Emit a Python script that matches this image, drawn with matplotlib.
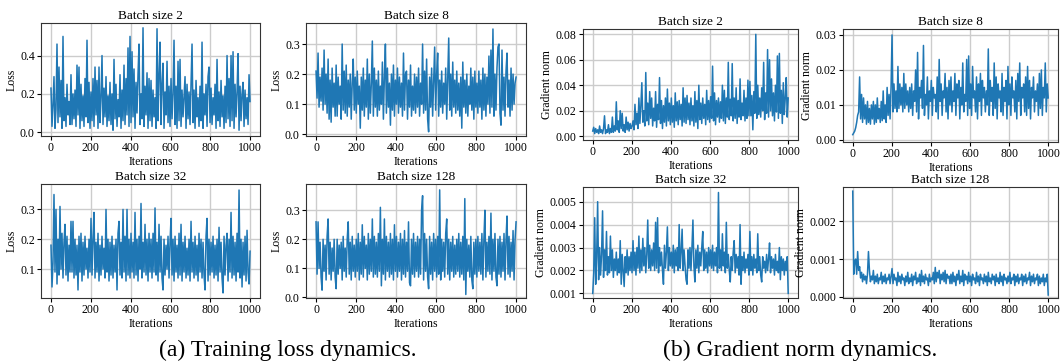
import numpy as np
import matplotlib
matplotlib.use("Agg")
import matplotlib.pyplot as plt

plt.rcParams['font.family'] = ['Liberation Serif', 'DejaVu Serif']

# values, one every ~5 iterations
# loss values in units of 0.01
loss_bs2 = [23, 3, 14, 29, 2, 12, 46, 5, 34, 8, 27, 2, 50, 6, 18, 3, 25, 9, 16, 4,
            30, 4, 20, 7, 22, 3, 35, 9, 34, 2, 25, 6, 19, 3, 28, 8, 48, 5, 26, 2,
            21, 6, 28, 3, 34, 9, 27, 2, 34, 5, 18, 40, 4, 23, 8, 29, 3, 19, 6, 26,
            4, 20, 1, 38, 7, 25, 3, 17, 8, 30, 2, 22, 6, 35, 4, 28, 9, 44, 3, 50,
            5, 42, 8, 33, 2, 26, 10, 30, 46, 4, 20, 7, 54.5, 3, 24, 9, 31, 2, 28, 6,
            27, 3, 22, 8, 18, 2, 54, 6, 30, 47, 4, 25, 36, 2, 21, 9, 37, 5, 24, 3,
            28, 7, 20, 48, 4, 24, 2, 37, 6, 38, 3, 22, 8, 19, 29, 2, 25, 7, 21, 4,
            26, 46, 5, 22, 2, 27, 8, 18, 3, 24, 6, 47, 2, 20, 9, 25, 3, 29, 34, 5,
            23, 4, 18, 9, 25, 2, 38, 6, 21, 3, 27, 8, 19, 2, 24, 5, 40, 7, 28, 3,
            40, 6, 42, 2, 25, 8, 21, 41, 1, 24, 6, 20, 26, 3, 22, 7, 18, 4, 30, 16]
loss_bs8 = [21, 12, 27, 9, 19, 11, 22, 8, 28, 10, 20, 7, 25, 5, 18, 4, 22, 9, 17, 6,
            23, 6, 19, 10, 16, 5, 30, 8, 21, 7, 23, 6, 18, 9, 20, 5, 17, 25, 8, 19,
            7, 21, 10, 16, 2, 19, 8, 22, 6, 18, 9, 25, 5, 20, 7, 17, 31, 6, 22, 9,
            18, 6, 21, 8, 16, 10, 24, 5, 19, 30, 7, 22, 9, 17, 3, 20, 8, 23, 6, 18,
            10, 22, 7, 19, 9, 17, 6, 27, 8, 20, 21, 5, 18, 9, 23, 6, 16, 8, 20, 7,
            19, 9, 22, 6, 17, 10, 30, 7, 21, 8, 25, 5, 0.8, 19, 9, 22, 6, 18, 29, 8,
            20, 27, 6, 18, 9, 21, 7, 17, 10, 22, 5, 19, 32, 8, 20, 6, 24, 9, 18, 7,
            21, 8, 17, 6, 19, 2, 24, 9, 18, 7, 20, 6, 16, 10, 22, 8, 19, 5, 21, 9,
            17, 7, 21, 9, 18, 5, 22, 8, 20, 6, 19, 10, 26, 7, 28, 9, 35, 6, 20, 8,
            22, 29, 30, 7, 3, 28, 8, 19, 6, 21, 27, 9, 18, 6, 22, 8, 20, 10, 17, 19]
loss_bs32 = [18, 4, 12, 35, 9, 30, 5, 20, 8, 31, 10, 22, 7, 19, 25, 8, 21, 6, 18, 9,
             26, 9, 26, 7, 20, 8, 18, 3, 21, 9, 22, 6, 19, 8, 21, 10, 17, 7, 20, 9,
             27, 8, 20, 29, 7, 19, 9, 22, 6, 18, 8, 21, 10, 17, 7, 30, 9, 20, 6, 19,
             8, 21, 7, 18, 9, 20, 3, 22, 26, 8, 19, 7, 30, 9, 21, 6, 30, 8, 20, 7,
             22, 9, 19, 7, 29, 8, 20, 6, 21, 10, 32, 7, 19, 9, 25, 8, 20, 6, 22, 9,
             20, 7, 22, 9, 30.5, 8, 19, 6, 25, 9, 21, 7, 3, 20, 8, 18, 10, 21, 7, 19,
             27, 8, 20, 6, 21, 9, 18, 7, 22, 8, 25, 6, 19, 9, 21, 7, 17, 8, 20, 6,
             26, 9, 19, 7, 21, 8, 18, 6, 22, 9, 20, 7, 19, 8, 3, 21, 27, 6, 20, 8,
             19, 9, 21, 7, 18, 8, 20, 6, 24, 9, 19, 7, 2, 21, 8, 18, 22, 6, 20, 9,
             29, 7, 21, 8, 19, 6, 22, 9, 36.5, 7, 20, 4, 19, 8, 21, 6, 23, 9, 5, 16]
loss_bs128 = [26, 8, 26, 10, 19, 7, 2.5, 20, 9, 18, 6, 21, 27, 8, 19, 6, 17, 9, 20, 7,
              3, 20, 8, 18, 10, 19, 6, 21, 9, 17, 7, 20, 26, 8, 19, 6, 21, 9, 18, 7,
              20, 9, 22, 6, 19, 8, 25, 7, 21, 10, 18, 6, 22, 8, 20, 9, 27, 7, 21, 8,
              19, 7, 22, 9, 31, 4, 20, 8, 27, 6, 21, 9, 19, 7, 22, 8, 20, 6, 25, 9,
              21, 7, 19, 9, 22, 6, 20, 8, 23, 7, 19, 9, 26, 5, 4, 20, 8, 22, 7, 19,
              9, 21, 7, 20, 8, 30, 35, 6, 22, 9, 20, 7, 3, 21, 8, 19, 6, 22, 9, 20,
              7, 21, 8, 37, 6, 20, 9, 19, 7, 22, 27, 8, 20, 6, 19, 9, 21, 7, 18, 8,
              20, 9, 22, 7, 19, 8, 21, 6, 34, 1, 20, 9, 18, 7, 21, 6, 3, 19, 8, 20,
              7, 21, 9, 19, 8, 22, 6, 20, 30, 7, 19, 9, 21, 8, 29, 6, 20, 9, 22, 7,
              4, 20, 8, 21, 7, 19, 9, 22, 6, 20, 28, 8, 21, 7, 19, 9, 23, 6, 20, 26]

# gradient norms in units of 0.001 (batch 2, 8, 32) and 0.0001 (batch 128)
grad_bs2 = [4, 7, 2, 6, 3, 5, 2, 8, 3, 5, 2, 6, 16, 2, 5, 3, 9, 2, 6, 3,
            15, 3, 8, 4, 27, 5, 12, 3, 20, 6, 18, 4, 9, 3, 15, 5, 11, 4, 10, 6,
            8, 12, 5, 25, 9, 18, 6, 30, 10, 24, 42, 11, 20, 8, 50, 12, 26, 9, 35, 14,
            30, 8, 22, 12, 35, 7, 25, 13, 46, 10, 28, 6, 24, 11, 30, 8, 37, 12, 26, 9,
            30, 11, 24, 7, 34, 12, 27, 9, 28, 13, 25, 8, 38, 11, 30, 10, 32, 13, 26, 9,
            30, 12, 24, 8, 35, 11, 28, 6, 40, 13, 26, 10, 30, 14, 25, 9, 36, 13, 28, 11,
            31, 14, 55, 12, 34, 9, 28, 15, 30, 11, 27, 14, 40, 12, 36, 10, 30, 15, 58, 13,
            29, 16, 57, 12, 30, 14, 38, 10, 28, 15, 45, 13, 26, 16, 36, 12, 30, 14, 44, 16,
            43, 16, 32, 5, 35, 18, 80, 14, 40, 17, 30, 15, 38, 20, 58, 13, 34, 18, 68, 15,
            60, 20, 45, 16, 34, 12, 40, 19, 63, 14, 65, 18, 36, 10, 42, 17, 30, 46, 15, 30]
grad_bs8 = [1.5, 2, 2.5, 3.5, 5, 7, 8, 18, 6, 13, 5, 12, 6, 10, 4.5, 11, 5, 9, 4.5, 10,
            6, 11, 4.5, 10, 5, 12, 6, 9, 5, 11, 5.5, 14, 6, 10, 5, 15, 7, 13, 6, 15,
            30, 8, 16, 9, 14, 8, 21, 9, 16, 10, 15, 8, 19, 9, 16, 10, 14, 8, 15, 9,
            16, 7, 14, 11, 20, 8, 25, 6, 15, 12, 17, 9, 27, 7, 13, 10, 18, 6, 14, 11,
            17, 7, 15, 12, 13, 8, 18, 6, 23, 11, 16, 7, 14, 12, 19, 8, 15, 6, 17, 10,
            18, 8, 14, 11, 19, 7, 16, 12, 17, 6, 15, 10, 22, 8, 13, 11, 23, 7, 24, 9,
            16, 7, 21, 12, 14, 8, 18, 6, 16, 11, 19, 7, 17, 12, 15, 8, 14, 10, 26, 7,
            17, 11, 15, 7, 22, 9, 18, 6, 16, 12, 14, 8, 19, 7, 15, 11, 17, 6, 21, 10,
            16, 7, 18, 12, 14, 8, 17, 6, 19, 11, 22, 7, 15, 12, 16, 8, 18, 7, 21, 9,
            17, 6, 15, 12, 18, 8, 14, 11, 16, 7, 19, 9, 20, 7, 15, 12, 22, 8, 16, 12]
grad_bs32 = [1.0, 1.9, 4.3, 1.4, 2.6, 5.0, 1.6, 3.0, 1.8, 2.7, 4.6, 1.7, 2.9, 2.0, 3.7, 1.8, 2.6, 1.9, 3.5, 2.0,
             2.9, 1.7, 2.5, 2.0, 2.8, 1.8, 2.5, 1.9, 3.3, 1.4, 2.7, 2.0, 1.3, 2.6, 1.9, 2.9, 1.8, 2.6, 2.0, 2.8,
             1.9, 3.3, 2.0, 2.8, 1.8, 3.0, 2.1, 3.5, 1.9, 2.9, 2.0, 3.4, 2.2, 3.0, 1.9, 2.7, 4.2, 2.1, 3.1, 2.0,
             2.9, 2.2, 3.2, 2.0, 4.1, 2.1, 4.3, 1.9, 3.0, 2.2, 2.8, 2.0, 1.4, 3.1, 2.1, 2.8, 3.9, 2.0, 3.0, 2.2,
             2.8, 2.1, 3.1, 1.9, 2.9, 2.2, 3.0, 2.0, 4.0, 2.1, 2.8, 3.8, 2.0, 2.9, 2.2, 1.6, 1.4, 2.9, 2.1, 3.0,
             2.0, 3.0, 4.2, 2.2, 1.5, 2.9, 2.1, 3.1, 1.9, 2.8, 2.2, 3.0, 3.7, 2.0, 2.9, 2.1, 2.8, 1.9, 3.0, 2.2,
             2.9, 2.1, 3.1, 2.0, 2.8, 2.2, 3.0, 1.9, 5.4, 2.1, 2.9, 2.0, 3.6, 2.2, 2.8, 1.9, 4.1, 2.1, 2.7, 2.0,
             1.5, 2.6, 2.0, 2.8, 3.3, 1.9, 2.7, 2.1, 2.6, 1.8, 4.0, 1.4, 2.6, 2.0, 2.8, 1.9, 2.5, 2.1, 2.7, 1.8,
             3.7, 2.0, 2.6, 1.8, 2.7, 2.1, 2.5, 1.9, 3.6, 2.0, 2.6, 1.8, 1.5, 2.6, 2.1, 2.4, 1.9, 2.7, 2.0, 2.5,
             3.2, 1.9, 2.6, 2.1, 2.5, 1.8, 2.7, 2.0, 2.4, 1.9, 3.0, 1.6, 2.6, 2.0, 2.5, 1.8, 2.4, 2.0, 2.6, 1.0]
grad_bs128 = [28, 6, 9.5, 10, 6, 12, 7, 8, 5, 6.5, 4, 6, 4.5, 5.5, 3.5, 6, 12, 7, 4, 5.5,
              4.5, 7, 3.5, 5.5, 4, 6, 3.5, 5, 4.5, 6.5, 3.5, 5.5, 4, 6, 3.5, 5, 4.5, 6, 3.5, 5.5,
              7.5, 3.5, 6, 4.5, 5, 3, 6.5, 4, 5.5, 3.5, 6, 4.5, 5, 3, 5.5, 4, 6.5, 3.5, 5, 4,
              6, 3, 5.5, 4.5, 6.5, 3.5, 5, 4, 6, 3, 7, 4, 5.5, 3.5, 6, 4.5, 5, 3, 6, 4,
              5, 4.5, 6.5, 3.5, 7.8, 4, 6.5, 5, 7, 3.5, 6, 4.5, 6.5, 4, 7, 3.5, 6, 5, 5.5, 3.5,
              6, 3.5, 6.5, 4, 5.5, 3, 6, 4.5, 7, 3.5, 5.5, 4, 7, 3, 6, 4.5, 5.5, 3.5, 6.5, 4,
              5.5, 3, 6, 4.5, 5, 3.5, 6.5, 4, 5.5, 3, 6, 4.5, 5, 3.5, 6, 4, 5.5, 3, 6.5, 4,
              5, 3.5, 6, 4.5, 5.5, 3, 6, 4, 5, 3.5, 6.5, 4, 5.5, 3, 6, 4.5, 5, 3.5, 5.5, 4,
              6.5, 3.5, 5, 4.5, 6, 3, 5.5, 4, 6, 3.5, 5, 4.5, 6, 3, 5.5, 4, 6, 3.5, 5, 4.5,
              6.5, 3, 5.5, 4, 6, 3.5, 5, 4.5, 6, 3, 5.5, 3.5, 5, 4, 6, 3, 5, 4, 6, 0.5]

iters = np.linspace(0, 999, len(loss_bs2))

fig = plt.figure(figsize=(10.63, 3.64), dpi=100)

panels = [
    # data, scale, title, ylabel, [left, bottom, width, height], ylim, yticks, decimals
    (loss_bs2, 0.01, "Batch size 2", "Loss", [0.0386, 0.6264, 0.206, 0.3104], (-0.02, 0.57), [0.0, 0.2, 0.4], 1),
    (loss_bs8, 0.01, "Batch size 8", "Loss", [0.2879, 0.6264, 0.207, 0.3104], (-0.006, 0.37), [0.0, 0.1, 0.2, 0.3], 1),
    (loss_bs32, 0.01, "Batch size 32", "Loss", [0.0386, 0.1813, 0.206, 0.313], (0.003, 0.385), [0.1, 0.2, 0.3], 1),
    (loss_bs128, 0.01, "Batch size 128", "Loss", [0.2879, 0.1813, 0.207, 0.313], (-0.002, 0.39), [0.0, 0.1, 0.2, 0.3], 1),
    (grad_bs2, 0.001, "Batch size 2", "Gradient norm", [0.5484, 0.6154, 0.2023, 0.305], (-0.003, 0.0842),
     [0.0, 0.02, 0.04, 0.06, 0.08], 2),
    (grad_bs8, 0.001, "Batch size 8", "Gradient norm", [0.793, 0.6099, 0.2023, 0.3104], (-0.0006, 0.0317),
     [0.0, 0.01, 0.02, 0.03], 2),
    (grad_bs32, 0.001, "Batch size 32", "Gradient norm", [0.5484, 0.1813, 0.2023, 0.305], (0.0008, 0.00564),
     [0.001, 0.002, 0.003, 0.004, 0.005], 3),
    (grad_bs128, 0.0001, "Batch size 128", "Gradient norm", [0.793, 0.1813, 0.2023, 0.305], (-0.00003, 0.00291),
     [0.0, 0.001, 0.002], 3),
]

for vals, scale, title, ylab, rect, ylim, yticks, decimals in panels:
    ax = fig.add_axes(rect)
    ax.plot(iters, np.array(vals) * scale, color='#1f77b4', lw=1.1)
    ax.set_xlim(-50, 1049)
    ax.set_ylim(*ylim)
    ax.set_xticks([0, 200, 400, 600, 800, 1000])
    ax.set_yticks(yticks)
    ax.set_yticklabels([f"{t:.{decimals}f}" for t in yticks])
    ax.grid(True, color='#cccccc', lw=1.0)
    ax.set_axisbelow(True)
    for sp in ax.spines.values():
        sp.set_color('#333333')
    ax.tick_params(labelsize=8.5, length=3, pad=1.5)
    ax.set_title(title, fontsize=9.5, pad=3)
    ax.set_ylabel(ylab, fontsize=8.5, labelpad=2)
    ax.set_xlabel("Iterations", fontsize=8.5, labelpad=1)

fig.text(0.271, 0.036, "(a) Training loss dynamics.", ha='center', va='center', fontsize=17)
fig.text(0.7526, 0.036, "(b) Gradient norm dynamics.", ha='center', va='center', fontsize=17)

fig.savefig("out.png", dpi=100)
